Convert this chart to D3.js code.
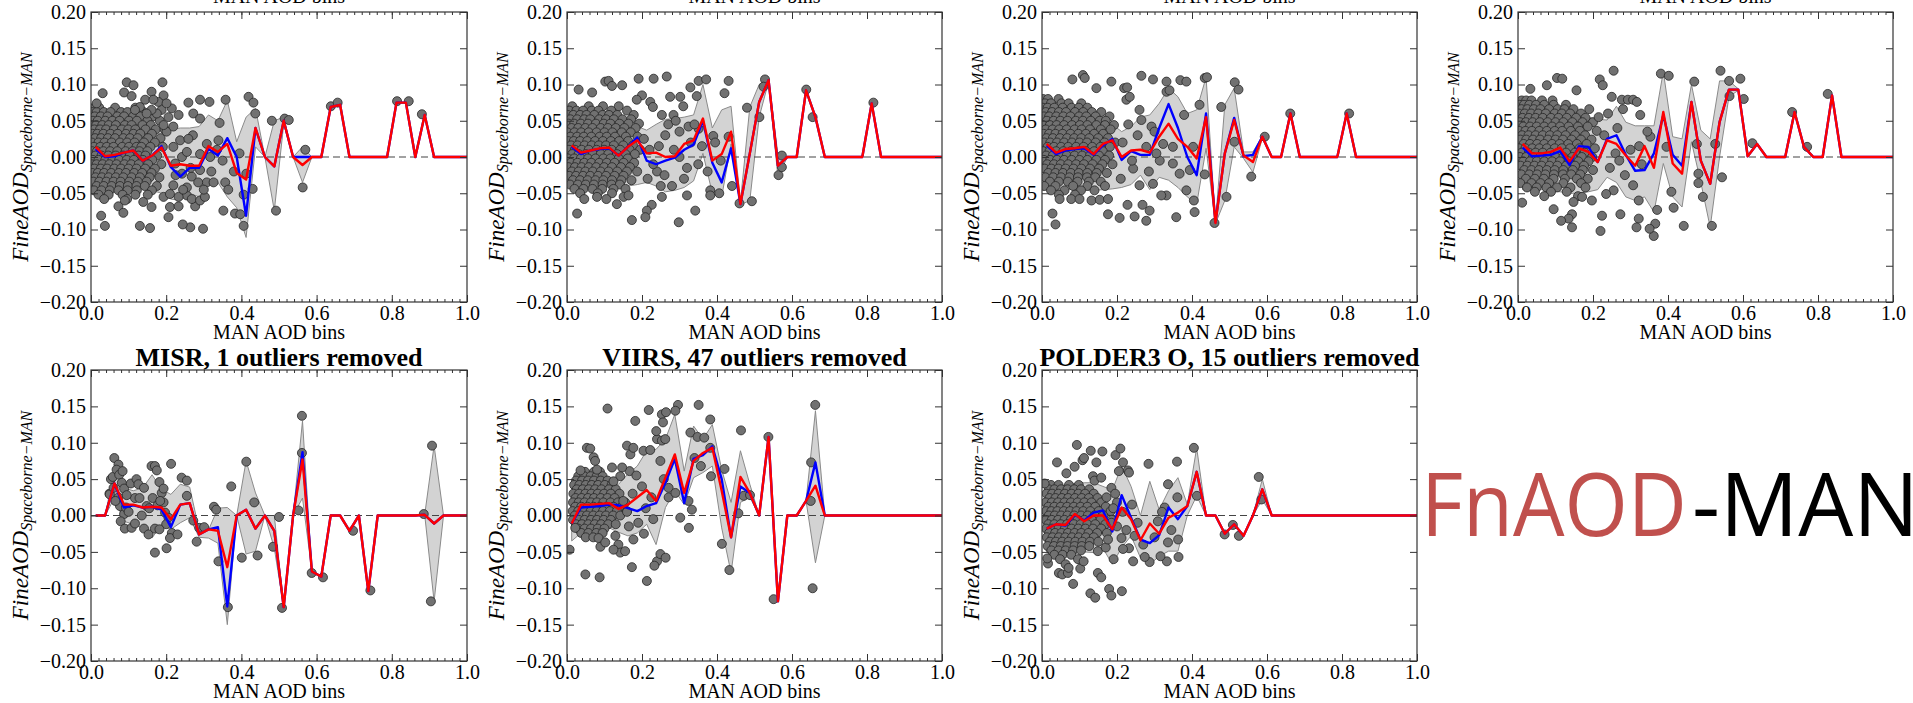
<!DOCTYPE html>
<html>
<head>
<meta charset="utf-8">
<script src="https://cdn.jsdelivr.net/npm/d3@7"></script>
<style>
    body { margin: 0; background: #fff; }
    svg text { font-family: "Liberation Serif", "Times New Roman", serif; }
</style>
</head>
<body>
<div id="chart"></div>
<script>

// MAN AOD bin centres (bin width 0.025)
const binCenters = [0.0125,0.0375,0.0625,0.0875,0.1125,0.1375,0.1625,0.1875,0.2125,0.2375,
    0.2625,0.2875,0.3125,0.3375,0.3625,0.3875,0.4125,0.4375,0.4625,0.4875,
    0.5125,0.5375,0.5625,0.5875,0.6125,0.6375,0.6625,0.6875,0.7125,0.7375,
    0.7625,0.7875,0.8125,0.8375,0.8625,0.8875,0.9125,0.9375,0.9625,0.9875,1.0125];

const yTickValues = [-0.2, -0.15, -0.1, -0.05, 0, 0.05, 0.1, 0.15, 0.2];
const xTickValues = [0, 0.2, 0.4, 0.6, 0.8, 1.0];

/* ---------- top row, panel 1 ---------- */
const p1Red = [0.014,0.001,0.003,0.006,0.009, -0.005,0.002,0.013,-0.012,-0.010, -0.012,-0.012,0.015,0.007,0.018,
    -0.022,-0.031,0.040,0.000,-0.013, 0.050,0.000,-0.011,0.000,0, 0.069,0.072,0,0,0, 0,0,0.075,0.075,0, 0.058,0,0,0,0, 0];
const p1Blue = [0.011,0.000,0.001,0.006,0.009, -0.005,0.002,0.015,-0.014,-0.027, -0.015,-0.015,0.011,0.002,0.026,
    0.000,-0.081,0.040,0.000,-0.013, 0.050,0.000,0.000,0.000,0, 0.069,0.072,0,0,0, 0,0,0.075,0.075,0, 0.058,0,0,0,0, 0];
const p1Hi = [0.050,0.052,0.050,0.048,0.050, 0.046,0.044,0.040,0.038,0.040, 0.040,0.042,0.058,0.050,0.078,
    0.021,0.055,0.067,0.000,0.050, 0.055,0.000,0.014,0.000,null, null,null,null,null,null, null,null,null,null,null, null,null,null,null,null, null];
const p1Lo = [-0.040,-0.042,-0.040,-0.040,-0.042, -0.044,-0.046,-0.050,-0.058,-0.060, -0.050,-0.055,-0.035,-0.035,-0.055,
    -0.070,-0.111,0.014,0.000,-0.074, 0.045,0.000,-0.035,0.000,null, null,null,null,null,null, null,null,null,null,null, null,null,null,null,null, null];
const p1Rows = [
    "68: 8 22 64 118",
    "62: 3 15 34 52 80 97 140",
    "56: 10 26 44 70 88 112 131 166",
    "50: 5 18 38 57 76 101 122 150 183",
    "44: 1 14 30 47 66 90 108 137 159",
    "38: 9 24 40 61 82 99 118 145 172 196",
    "32: 4 17 33 52 71 93 113 131 162",
    "26: 11 27 45 64 86 104 124 152 185",
    "20: 2 20 36 55 77 96 116 141 170",
    "14: 8 25 42 60 83 101 121 134 158 191",
    "8: 3 16 33 51 70 92 111 129 150",
    "2: 12 28 46 66 85 103 126 145 176",
    "-4: 5 20 38 57 75 95 114 138 163",
    "-10: 1 15 31 49 68 89 107 127 152 187",
    "-16: 9 26 43 62 80 100 121 144 170",
    "-22: 3 18 35 54 74 93 115 136 161",
    "-28: 12 29 47 66 86 108 130 156 182",
    "-34: 6 22 41 60 79 102 125 148",
    "-40: 15 34 55 77 98 121 143 175",
    "-46: 8 28 50 73 97 122 162",
    "-52: 20 47 84 118 151",
    "-58: 35 96"
];
const p1Pts = "95,103 113,99 31,88 190,103 161,90 193,85 88,89 108,84 144,79 15,74 259,75 290,79 315,76 358,79 419,83 432,75 437,60 342,47 215,67 233,58 272,60 290,53 271,30 308,18 339,23 481,50 515,53 526,51 570,10 563,-42 492,-74 413,-23 430,-44 406,-52 383,-78 352,-74 406,-95 397,-79 308,-35 326,-35 357,-35 298,-99 264,-97 244,-93 206,-83 210,-69 233,-68 277,-68 130,-95 157,-98 37,-95 27,-81 73,-68 90,-60 86,-77 139,-62 161,-69 193,-55 255,-53 268,-58 290,-60 303,-55 233,-55 210,-51 219,-39 255,-42 242,-23 268,-27 290,-18 224,-9 242,0 255,7 290,4 317,0 219,14 237,23 259,25 201,35 219,42 193,44 206,55 188,65 175,60 161,65 148,60 179,76 201,74 166,79 130,69 117,65 225,-25 245,-45 265,-15 285,-35 300,-45 320,-20 335,10 350,-5 365,-45 380,-20 395,5 638,70 656,75 814,77 845,77 880,59";

/* ---------- top row, panel 2 ---------- */
const p2Red = [0.016,0.006,0.009,0.012,0.013, 0.002,0.014,0.023,0.005,0.006, 0.000,0.001,0.018,0.023,0.053,
    -0.005,0.004,0.035,-0.065,0.005, 0.076,0.106,-0.012,0,0, 0.092,0.055,0,0,0, 0,0,0.074,0,0, 0,0,0,0,0, 0];
const p2Blue = [0.014,0.004,0.009,0.011,0.012, 0.002,0.014,0.027,-0.005,-0.010, -0.005,-0.001,0.010,0.017,0.050,
    -0.008,-0.035,0.012,-0.065,0.005, 0.076,0.106,-0.012,0,0, 0.092,0.055,0,0,0, 0,0,0.074,0,0, 0,0,0,0,0, 0];
const p2Hi = [0.050,0.050,0.052,0.050,0.048, 0.046,0.044,0.042,0.037,0.045, 0.052,0.053,0.055,0.058,0.100,
    0.040,0.065,0.070,-0.062,0.069, 0.100,0.108,0.003,0.000,null, null,null,null,null,null, null,null,null,null,null, null,null,null,null,null, null];
const p2Lo = [-0.040,-0.042,-0.040,-0.040,-0.042, -0.040,-0.040,-0.038,-0.035,-0.040, -0.048,-0.046,-0.042,-0.033,0.005,
    -0.050,-0.055,0.018,-0.066,-0.060, 0.055,0.104,-0.028,0.000,null, null,null,null,null,null, null,null,null,null,null, null,null,null,null,null, null];
const p2Rows = [
    "70: 14 58 96 138",
    "64: 6 25 43 66 84 118 160",
    "58: 2 17 35 52 73 95 112 134 178",
    "52: 9 27 46 62 86 104 125 148 171",
    "46: 4 19 37 56 77 98 116 140 164 192",
    "40: 12 30 49 68 90 109 130 153 183",
    "34: 1 20 38 58 79 100 121 146 170",
    "28: 9 27 45 65 87 106 128 157 188",
    "22: 3 18 35 54 75 96 117 139 163",
    "16: 11 28 47 66 85 104 125 150 176",
    "10: 5 21 39 58 79 99 119 142 167 195",
    "4: 14 31 50 69 90 110 133 156 181",
    "-2: 2 19 37 56 76 97 116 138 162",
    "-8: 10 28 46 65 86 106 127 151 179",
    "-14: 4 21 39 58 78 99 120 144 168",
    "-20: 13 31 49 69 90 111 134 160 187",
    "-26: 6 24 43 62 83 104 127 151",
    "-32: 16 35 55 76 97 120 145 172",
    "-38: 8 29 50 72 95 119 141",
    "-44: 20 44 68 94 124 156",
    "-50: 35 82 120"
];
const p2Pts = "102,104 111,105 120,98 31,93 67,89 147,99 191,108 231,108 266,111 200,85 186,79 222,76 229,69 275,83 302,83 329,96 351,105 371,107 431,105 420,88 346,84 310,70 253,58 284,58 324,42 351,39 390,29 431,28 480,68 513,55 528,107 524,97 573,2 564,-25 573,-14 460,-64 493,-61 382,-46 406,-50 382,-53 342,-74 320,-53 298,-90 253,-55 226,-66 213,-74 209,-83 173,-87 133,-65 151,-55 164,-53 27,-78 46,-58 80,-55 105,-58 638,93 655,55 817,75 220,10 240,-20 262,30 280,-40 300,0 312,-30 330,20 350,-10 270,45 290,50 250,-40 230,-10 205,25 215,-30 245,15 260,-25 285,10 300,35 320,-15 340,45 360,15 375,-20 395,20 410,-5 440,-40";

/* ---------- top row, panel 3 ---------- */
const p3Red = [0.018,0.006,0.011,0.012,0.014, 0.004,0.018,0.023,0.000,0.009, 0.010,0.006,0.028,0.046,0.025,
    0.014,-0.002,0.055,-0.091,0.005, 0.051,0.002,-0.007,0.028,0, 0,0.060,0,0,0, 0,0,0.060,0,0, 0,0,0,0,0, 0];
const p3Blue = [0.016,0.004,0.009,0.011,0.012, 0.003,0.016,0.025,-0.004,0.008, 0.003,0.003,0.040,0.073,0.040,
    0.000,-0.025,0.060,-0.090,0.005, 0.054,0.001,0.003,0.028,0, 0,0.060,0,0,0, 0,0,0.060,0,0, 0,0,0,0,0, 0];
const p3Hi = [0.055,0.055,0.056,0.055,0.054, 0.052,0.050,0.045,0.035,0.042, 0.055,0.058,0.074,0.095,0.083,
    0.060,0.065,0.110,-0.090,0.072, 0.095,0.007,0.007,0.029,null, null,null,null,null,null, null,null,null,null,null, null,null,null,null,null, null];
const p3Lo = [-0.045,-0.046,-0.045,-0.044,-0.045, -0.046,-0.045,-0.044,-0.042,-0.038, -0.025,-0.045,-0.028,-0.032,-0.042,
    -0.055,-0.065,0.012,-0.092,-0.060, 0.014,-0.002,-0.021,0.026,null, null,null,null,null,null, null,null,null,null,null, null,null,null,null,null, null];
const p3Rows = [
    "80: 3 16 44",
    "74: 8 24 52 71 105",
    "68: 2 15 33 55 79 98 121",
    "62: 10 27 45 64 88 110 133 158",
    "56: 5 19 38 57 76 99 118 143 180",
    "50: 13 31 49 68 90 109 130 154 170",
    "44: 2 21 39 59 80 101 121 145 168 192",
    "38: 10 28 46 66 87 106 128 157 183",
    "32: 4 19 36 55 76 97 117 139 163",
    "26: 12 29 48 67 86 105 126 150 176",
    "20: 6 22 40 59 80 100 120 143 167 195",
    "14: 15 32 51 70 91 111 134 156 181",
    "8: 3 20 38 57 77 98 117 139 162",
    "2: 11 29 47 66 87 107 128 152 179",
    "-4: 5 22 40 59 79 100 121 145 168",
    "-10: 14 32 50 70 91 112 135 161 188",
    "-16: 7 25 44 63 84 105 128 152",
    "-22: 17 36 56 77 98 121 146 173",
    "-28: 9 30 51 73 96 120 142",
    "-34: 21 45 69 95 125 157",
    "-40: 6 36 83 121 168",
    "-46: 24 60 104 140",
    "-52: 45 88"
];
const p3Pts = "81,107 109,113 114,109 145,95 185,104 219,95 227,96 265,112 296,107 332,104 369,106 385,104 434,109 440,110 420,72 514,103 524,93 478,69 513,21 594,28 558,-27 492,-55 460,-91 434,-24 407,-76 405,-60 385,-46 358,-83 332,-53 318,-53 278,-88 287,-74 268,-66 247,-82 207,-84 228,-66 176,-79 28,-78 36,-93 47,-58 78,-58 100,-58 132,-60 154,-59 176,-58 260,65 292,42 332,90 340,92 379,58 403,14 394,-18 349,14 323,18 300,35 278,14 225,79 234,83 265,51 314,-5 349,-9 367,-23 260,-39 296,-37 243,-16 662,60 819,60 215,20 240,-5 255,30 285,-20 305,5 230,45 210,-30";

/* ---------- top row, panel 4 ---------- */
const p4Red = [0.018,0.005,0.005,0.007,0.013, -0.006,0.012,0.007,-0.007,0.023, 0.018,0.002,-0.012,0.015,-0.015,
    0.062,-0.009,-0.023,0.076,-0.005, -0.037,0.048,0.093,0.093,0.001, 0.018,0,0,0,0.062, 0.014,0,0,0.085,0, 0,0,0,0,0, 0];
const p4Blue = [0.013,0.001,0.002,0.003,0.008, -0.011,0.015,0.014,-0.007,0.025, 0.030,0.003,-0.019,-0.018,0.005,
    0.058,0.003,-0.012,0.076,-0.005, -0.037,0.048,0.093,0.093,0.001, 0.018,0,0,0,0.062, 0.014,0,0,0.085,0, 0,0,0,0,0, 0];
const p4Hi = [0.060,0.062,0.060,0.058,0.060, 0.058,0.056,0.055,0.052,0.051, 0.070,0.048,0.043,0.043,0.043,
    0.118,0.028,0.025,0.100,0.037, 0.025,0.105,0.105,0.094,null, null,null,null,null,null, null,null,null,null,null, null,null,null,null,null, null];
const p4Lo = [-0.045,-0.046,-0.045,-0.046,-0.048, -0.050,-0.050,-0.048,-0.045,-0.028, -0.035,-0.055,-0.060,-0.055,-0.076,
    -0.009,-0.055,-0.069,0.021,-0.035, -0.097,0.000,0.083,0.092,null, null,null,null,null,null, null,null,null,null,null, null,null,null,null,null, null];
const p4Rows = [
    "78: 10 22 36 64 92",
    "72: 4 16 30 48 70 95 128",
    "66: 9 25 42 60 83 106 124 148 190",
    "60: 2 18 35 54 74 98 117 139 168",
    "54: 12 29 47 66 88 108 130 155 180",
    "48: 5 21 39 58 79 100 121 145 172 200",
    "42: 14 32 50 70 91 112 135 160 186",
    "36: 3 20 37 57 77 98 118 141 165 210",
    "30: 11 28 47 66 85 105 127 152 179",
    "24: 6 22 40 59 80 100 120 143 168 196",
    "18: 15 32 51 70 91 111 134 157 183",
    "12: 2 20 38 57 77 98 117 139 164 205",
    "6: 10 29 47 66 87 107 128 152 178",
    "0: 5 22 40 59 79 100 121 145 170 198",
    "-6: 14 32 50 70 91 112 135 161 188",
    "-12: 7 25 44 63 84 105 128 152 176",
    "-18: 17 36 56 77 98 121 146 173 200",
    "-24: 9 30 51 73 96 120 142 166",
    "-30: 21 45 69 95 125 157 186",
    "-36: 6 36 60 83 121 168",
    "-42: 24 50 76 104 140 180",
    "-48: 45 88 130",
    "-54: 70 160"
];
const p4Pts = "104,109 118,108 33,94 77,99 156,92 218,107 226,99 255,119 250,83 277,79 293,79 307,79 317,76 280,66 326,58 381,115 402,112 470,104 540,119 563,105 593,108 564,84 602,80 526,18 544,-28 517,-95 493,-55 481,-36 481,-23 477,18 442,-95 415,-70 409,-48 396,14 353,28 371,-73 366,-92 362,-109 351,-99 322,-85 316,-97 273,-79 322,-60 307,-39 255,-46 235,-51 220,-102 224,-81 197,-60 171,-55 148,-62 144,-79 135,-85 144,-97 115,-88 95,-72 11,-63 731,62 771,14 826,87 625,19 323,15 260,5 230,30 245,-15 265,40 285,-25 300,10 330,-10 345,35 270,-5 215,55 240,60";

/* ---------- MISR ---------- */
const misrRed = [0,0,0.044,0.015,0.015, 0.011,0.012,0.011,-0.005,0.015, 0.017,-0.026,-0.019,-0.021,-0.071,
    0,0.008,-0.018,0,-0.021, -0.126,0,0.077,-0.077,-0.084, 0,0,-0.021,0,-0.104, 0,0,0,0,0, 0.001,-0.011,0,0,0, 0];
const misrBlue = [0,0,0.044,0.011,0.014, 0.011,0.012,0.008,-0.016,0.015, 0.017,-0.026,-0.019,-0.016,-0.125,
    0,0.008,-0.018,0,-0.021, -0.126,0,0.087,-0.077,-0.084, 0,0,-0.021,0,-0.104, 0,0,0,0,0, 0.001,-0.011,0,0,0, 0];
const misrHi = [null,0,0.063,0.038,0.034, 0.038,0.056,0.036,0.029,0.043, 0.039,-0.020,-0.020,0.010,0.011,
    0,0.075,0.031,0,0.000, -0.126,0,0.130,-0.077,null, null,null,null,null,null, null,null,null,null,null, 0.001,0.096,0,null,null, null];
const misrLo = [null,0,0.024,-0.008,-0.012, -0.017,-0.031,-0.012,-0.019,-0.010, -0.003,-0.030,-0.031,-0.038,-0.150,
    0,-0.053,-0.049,0,-0.045, -0.126,0,0.024,-0.077,null, null,null,null,null,null, null,null,null,null,null, 0.001,-0.118,0,null,null, null];
const misrRows = [];
const misrPts = "62,79 73,70 53,50 58,53 49,30 68,63 75,56 84,61 82,45 88,37 73,25 77,13 88,2 93,11 79,-8 90,-18 108,-17 117,-11 106,44 121,50 126,43 117,24 129,24 141,38 148,13 141,-18 153,-26 161,68 170,68 175,62 164,24 177,14 170,-18 170,-51 182,46 188,31 193,18 193,37 184,20 197,4 206,-3 200,-12 182,-19 201,-45 213,71 215,-24 210,-31 230,-26 241,52 255,48 255,27 272,-7 281,-36 288,-17 301,-16 327,12 333,8 339,-63 373,40 364,-126 401,-58 413,74 434,18 443,-55 484,-43 500,-2 508,-127 552,7 561,137 561,86 587,-79 617,-85 697,-21 743,-103 885,2 907,96 904,-118 50,29 65,20 100,5 135,0 155,10 60,38 95,28";

/* ---------- VIIRS ---------- */
const viirsRed = [-0.011,0.015,0.015,0.016,0.017, 0.009,0.015,0.025,0.035,0.020, 0.052,0.084,0.031,0.075,0.086,
    0.093,0.034,-0.030,0.053,0.031, 0,0.108,-0.118,0,0, 0.020,0.041,0,0,0, 0,0,0,0,0, 0,0,0,0,0, 0];
const viirsBlue = [-0.011,0.011,0.012,0.013,0.015, 0.014,0.010,0.006,0.013,0.017, 0.045,0.078,0.017,0.078,0.083,
    0.095,0.050,-0.030,0.040,0.031, 0,0.108,-0.118,0,0, 0.020,0.073,0,0,0, 0,0,0,0,0, 0,0,0,0,0, 0];
const viirsHi = [0.015,0.024,0.029,0.034,0.038, 0.043,0.057,0.068,0.089,0.091, 0.105,0.139,0.061,0.123,0.105,
    0.125,0.063,0.018,0.089,0.043, 0,null,null,null,null, 0.020,0.144,0,null,null, null,null,null,null,null, null,null,null,null,null, null];
const viirsLo = [-0.035,-0.024,-0.019,-0.017,-0.017, -0.023,-0.028,-0.024,-0.012,-0.040, 0.011,0.034,0.015,0.052,0.059,
    0.068,-0.017,-0.079,0.018,0.025, 0,null,null,null,null, 0.020,-0.065,0,null,null, null,null,null,null,null, null,null,null,null,null, null];
const viirsRows = [
    "60: 48 72 88",
    "54: 30 46 63 79 95",
    "48: 24 40 56 72 90 108",
    "42: 19 33 50 66 83 101 119",
    "36: 26 42 58 75 92 112 130",
    "30: 17 32 49 65 82 99 117 140",
    "24: 23 39 56 72 90 108 127",
    "18: 16 31 47 64 80 97 116 136 155",
    "12: 22 38 55 71 88 106 124 145",
    "6: 15 30 46 63 79 96 114 133 160",
    "0: 21 37 53 70 87 104 123 142",
    "-6: 16 31 47 64 80 98 117",
    "-12: 24 40 57 74 91 110 130",
    "-18: 30 47 64 82 100",
    "-24: 38 57 78 95",
    "-30: 50 70"
];
const viirsPts = "7,-47 22,-17 108,147 53,93 62,92 71,80 75,75 80,63 36,62 49,-81 87,-85 89,-43 84,-31 102,-37 129,-28 137,-40 142,-51 155,-49 124,-47 173,-71 177,-33 160,96 169,84 182,130 177,93 167,61 147,66 142,54 124,47 120,66 218,145 204,89 222,90 213,-90 240,-63 249,-53 263,-58 233,-69 240,105 253,139 264,142 256,128 238,116 253,103 262,105 249,75 258,50 271,38 271,25 289,31 296,152 289,144 302,-3 324,20 325,-17 329,114 333,8 340,79 351,152 348,108 357,68 366,107 382,132 382,93 384,54 420,64 413,-39 433,-75 457,3 464,117 471,27 488,28 537,108 551,-115 650,20 651,73 662,152 655,-100 150,20 160,5 175,30 190,-10 200,40 210,10 225,25 230,-5 185,55 205,-25 165,-15";

/* ---------- POLDER3 O ---------- */
const polderRed = [-0.018,-0.012,-0.013,0.002,-0.008, 0.000,0.000,-0.019,0.011,-0.005, -0.034,-0.011,-0.025,-0.003,0.004,
    0.013,0.060,0,0,-0.025, -0.012,-0.028,0,0.036,0, 0,0,0,0,0, 0,0,0,0,0, 0,0,0,0,0, 0];
const polderBlue = [-0.018,-0.012,-0.014,0.001,-0.007, 0.004,0.007,-0.022,0.028,-0.003, -0.033,-0.038,-0.027,0.011,-0.005,
    0.013,0.060,0,0,-0.025, -0.012,-0.028,0,0.036,0, 0,0,0,0,0, 0,0,0,0,0, 0,0,0,0,0, 0];
const polderHi = [0.040,0.040,0.042,0.044,0.045, 0.045,0.040,0.035,0.068,0.040, 0.000,0.047,0.008,0.034,0.052,
    0.015,0.093,0,null,null, null,null,0,0.050,0, null,null,null,null,null, null,null,null,null,null, null,null,null,null,null, null];
const polderLo = [-0.050,-0.050,-0.052,-0.050,-0.050, -0.051,-0.045,-0.067,-0.044,-0.028, -0.058,-0.067,-0.056,-0.049,-0.049,
    0.000,0.027,0,null,null, null,null,0,0.022,0, null,null,null,null,null, null,null,null,null,null, null,null,null,null,null, null];
const polderRows = [
    "42: 24 44 72 98",
    "36: 18 33 51 68 86 104 126",
    "30: 12 27 44 61 79 97 115 138",
    "24: 20 36 53 70 88 106 125 148",
    "18: 10 26 43 60 77 95 113 132 158",
    "12: 17 33 50 67 85 103 121 142 170",
    "6: 11 25 41 58 75 92 110 129 151 183",
    "0: 18 34 51 68 86 104 122 140 163",
    "-6: 10 26 43 60 77 95 113 133 156 186",
    "-12: 17 33 50 67 85 103 121 142 169",
    "-18: 11 27 44 61 79 97 116 136 158",
    "-24: 19 35 52 69 87 105 124 147 173",
    "-30: 13 28 45 62 80 98 117 138",
    "-36: 21 37 54 71 89 108 128 150",
    "-42: 15 32 50 68 87 106 126",
    "-48: 25 44 63 83 104",
    "-54: 33 55 78",
    "-60: 48"
];
const polderPts = "7,44 40,73 93,97 87,67 65,58 108,76 112,79 130,89 145,73 161,88 136,54 140,48 158,52 196,83 209,92 216,73 205,61 229,62 232,59 185,38 200,18 172,25 284,71 336,43 360,74 361,25 405,93 413,27 578,53 585,22 487,-26 509,-13 525,-28 327,11 309,-8 336,-37 363,-33 364,-57 333,-63 316,-56 287,-64 274,-57 247,-28 243,-63 232,-45 216,-46 212,-31 191,-60 179,-101 185,-110 213,-104 129,-107 142,-113 149,-79 158,-85 83,-94 45,-79 54,-81 69,-79 63,-67 71,-72 16,-66 14,-59 96,-60 102,-73 111,-63 149,-49 170,-44 176,-33 190,10 200,-15 215,5 225,-20 240,15 255,-10 270,-40 300,-30 320,5 345,-20 185,-10 195,30";

/* ---------- helpers: scatter strings are in thousandths ---------- */
function parseRows(rows) {
    let out = [];
    rows.forEach(r => {
        let [y, xs] = r.split(':');
        xs.trim().split(/\s+/).forEach(x => out.push([+x / 1000, +y / 1000]));
    });
    return out;
}
function parsePairs(s) {
    return s.trim().split(/\s+/).map(p => p.split(',').map(v => +v / 1000));
}

const panels = [
    {row: 0, col: 0, title: null, red: p1Red, blue: p1Blue, hi: p1Hi, lo: p1Lo, rows: p1Rows, pts: p1Pts},
    {row: 0, col: 1, title: null, red: p2Red, blue: p2Blue, hi: p2Hi, lo: p2Lo, rows: p2Rows, pts: p2Pts},
    {row: 0, col: 2, title: null, red: p3Red, blue: p3Blue, hi: p3Hi, lo: p3Lo, rows: p3Rows, pts: p3Pts},
    {row: 0, col: 3, title: null, red: p4Red, blue: p4Blue, hi: p4Hi, lo: p4Lo, rows: p4Rows, pts: p4Pts},
    {row: 1, col: 0, title: "MISR, 1 outliers removed", red: misrRed, blue: misrBlue, hi: misrHi, lo: misrLo, rows: misrRows, pts: misrPts},
    {row: 1, col: 1, title: "VIIRS, 47 outliers removed", red: viirsRed, blue: viirsBlue, hi: viirsHi, lo: viirsLo, rows: viirsRows, pts: viirsPts},
    {row: 1, col: 2, title: "POLDER3 O, 15 outliers removed", red: polderRed, blue: polderBlue, hi: polderHi, lo: polderLo, rows: polderRows, pts: polderPts}
];

// plot boxes
const colX = [91, 567, 1042, 1518];
const colW = [376, 375, 375, 375];
const rowY = [12, 370];
const rowH = [290, 291];


class DiffPanel {

    constructor(svg, cfg, id) {
        this.svg = svg;
        this.cfg = cfg;
        this.id = id;
        this.box = {x: colX[cfg.col], y: rowY[cfg.row], w: colW[cfg.col], h: rowH[cfg.row]};
        this.initVis();
    }

    initVis() {
        let vis = this;
        let w = vis.box.w, h = vis.box.h;

        vis.g = vis.svg.append('g')
            .attr('transform', `translate(${vis.box.x}, ${vis.box.y})`);

        vis.x = d3.scaleLinear().domain([0, 1]).range([0, w]);
        vis.y = d3.scaleLinear().domain([-0.2, 0.2]).range([h, 0]);

        vis.g.append('clipPath').attr('id', 'clip' + vis.id)
            .append('rect').attr('width', w).attr('height', h);
        vis.plot = vis.g.append('g').attr('clip-path', `url(#clip${vis.id})`);

        let bins = binCenters.map((b, i) => ({
            x: b, red: vis.cfg.red[i], blue: vis.cfg.blue[i], lo: vis.cfg.lo[i], hi: vis.cfg.hi[i]
        }));

        // spread band
        vis.plot.append('path')
            .datum(bins)
            .attr('d', d3.area()
                .defined(d => d.lo != null && d.hi != null)
                .x(d => vis.x(d.x))
                .y0(d => vis.y(d.lo))
                .y1(d => vis.y(d.hi)))
            .attr('fill', '#d3d3d3')
            .attr('stroke', '#8a8a8a')
            .attr('stroke-width', 1);

        // zero line
        vis.plot.append('line')
            .attr('x1', 0).attr('x2', w)
            .attr('y1', vis.y(0)).attr('y2', vis.y(0))
            .attr('stroke', '#444')
            .attr('stroke-width', 1.2)
            .attr('stroke-dasharray', '7,4');

        // scatter
        let pts = parseRows(vis.cfg.rows).concat(parsePairs(vis.cfg.pts));
        vis.plot.selectAll('.dot')
            .data(pts)
            .enter().append('circle')
            .attr('class', 'dot')
            .attr('cx', d => vis.x(d[0]))
            .attr('cy', d => vis.y(d[1]))
            .attr('r', 4.5)
            .attr('fill', '#717171')
            .attr('stroke', '#262626')
            .attr('stroke-width', 0.8);

        // mean / median lines
        let line = key => d3.line().x(d => vis.x(d.x)).y(d => vis.y(d[key]));
        vis.plot.append('path').datum(bins)
            .attr('d', line('blue'))
            .attr('fill', 'none').attr('stroke', '#0000ff').attr('stroke-width', 2.4)
            .attr('stroke-linejoin', 'round');
        vis.plot.append('path').datum(bins)
            .attr('d', line('red'))
            .attr('fill', 'none').attr('stroke', '#ff0000').attr('stroke-width', 2.4)
            .attr('stroke-linejoin', 'round');

        // axes
        let fmtY = d3.format('.2f'), fmtX = d3.format('.1f');
        let minor = d3.range(0, 1.0001, 0.02);

        vis.g.append('g').attr('class', 'axis')
            .call(d3.axisLeft(vis.y).tickValues(yTickValues).tickFormat(fmtY)
                .tickSizeInner(-7).tickSizeOuter(0).tickPadding(5));
        vis.g.append('g').attr('class', 'axis')
            .attr('transform', `translate(${w}, 0)`)
            .call(d3.axisRight(vis.y).tickValues(yTickValues).tickFormat('')
                .tickSizeInner(-7).tickSizeOuter(0));
        vis.g.append('g').attr('class', 'axis')
            .attr('transform', `translate(0, ${h})`)
            .call(d3.axisBottom(vis.x).tickValues(xTickValues).tickFormat(fmtX)
                .tickSizeInner(-7).tickSizeOuter(0).tickPadding(4));
        vis.g.append('g').attr('class', 'axis')
            .attr('transform', `translate(0, ${h})`)
            .call(d3.axisBottom(vis.x).tickValues(minor).tickFormat('')
                .tickSizeInner(-3).tickSizeOuter(0));
        vis.g.append('g').attr('class', 'axis')
            .call(d3.axisTop(vis.x).tickValues(xTickValues).tickFormat('')
                .tickSizeInner(-7).tickSizeOuter(0));
        vis.g.append('g').attr('class', 'axis')
            .call(d3.axisTop(vis.x).tickValues(minor).tickFormat('')
                .tickSizeInner(-3).tickSizeOuter(0));

        vis.g.selectAll('.axis .domain').remove();
        vis.g.selectAll('.axis line').attr('stroke', '#333').attr('stroke-width', 1);
        vis.g.selectAll('.axis text')
            .attr('fill', '#000')
            .style('font-size', '20px')
            .style('font-family', '"Liberation Serif", serif');

        // frame
        vis.g.append('rect')
            .attr('width', w).attr('height', h)
            .attr('fill', 'none')
            .attr('stroke', '#333')
            .attr('stroke-width', 1.2);

        // x label
        vis.g.append('text')
            .attr('x', w / 2).attr('y', h + 37)
            .attr('text-anchor', 'middle')
            .style('font-size', '20px')
            .text('MAN AOD bins');

        // y label (math style), centred by hand on the plot height
        let yl = vis.g.append('text')
            .attr('transform', `translate(-63, ${h / 2}) rotate(-90)`)
            .style('font-style', 'italic');
        let main = yl.append('tspan').style('font-size', '23px').text('FineAOD');
        yl.append('tspan').attr('dy', 4).style('font-size', '16px').text('Spaceborne\u2212MAN');
        let len = yl.node().getComputedTextLength();
        main.attr('x', -len / 2);

        // title
        if (vis.cfg.title) {
            vis.g.append('text')
                .attr('x', w / 2).attr('y', -4)
                .attr('text-anchor', 'middle')
                .style('font-size', '26px')
                .style('font-weight', 'bold')
                .text(vis.cfg.title);
        } else {
            // x label of the row above, cut by the image edge
            vis.g.append('text')
                .attr('x', w / 2).attr('y', -9)
                .attr('text-anchor', 'middle')
                .style('font-size', '20px')
                .text('MAN AOD bins');
        }
    }
}

let svg = d3.select('#chart').append('svg')
    .attr('width', 1913)
    .attr('height', 703)
    .style('display', 'block');

panels.forEach((p, i) => new DiffPanel(svg, p, i));

// side caption
let capFn = svg.append('text')
    .style('font-family', '"Open Sans", "Noto Sans", sans-serif')
    .style('font-size', '87px')
    .attr('fill', '#c0504d')
    .text('FnAOD');
let fnW = capFn.node().getComputedTextLength();
capFn.attr('transform', `translate(1421, 536) scale(${266 / fnW}, 1)`);

svg.append('text')
    .attr('x', 1692).attr('y', 536)
    .style('font-family', '"Open Sans", "Noto Sans", sans-serif')
    .style('font-size', '87px')
    .attr('fill', '#000')
    .text('-MAN');

</script>
</body>
</html>
